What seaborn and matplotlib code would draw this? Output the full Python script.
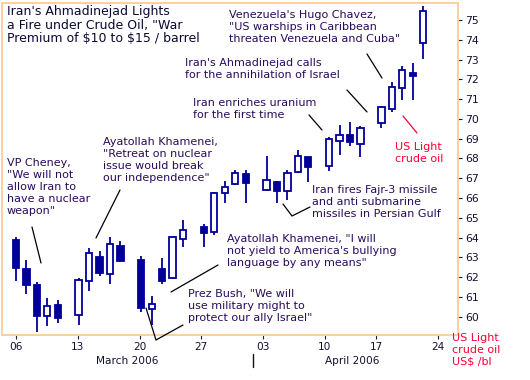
import numpy as np
import pandas as pd
import matplotlib
matplotlib.use("Agg")
import matplotlib.pyplot as plt
import seaborn as sns
from matplotlib.lines import Line2D

# ---------------- data ----------------
dates = ["2006-03-06", "2006-03-07", "2006-03-08", "2006-03-09", "2006-03-10",
         "2006-03-13", "2006-03-14", "2006-03-15", "2006-03-16", "2006-03-17",
         "2006-03-20", "2006-03-21", "2006-03-22", "2006-03-23", "2006-03-24",
         "2006-03-27", "2006-03-28", "2006-03-29", "2006-03-30", "2006-03-31",
         "2006-04-03", "2006-04-04", "2006-04-05", "2006-04-06", "2006-04-07",
         "2006-04-10", "2006-04-11", "2006-04-12", "2006-04-13",
         "2006-04-17", "2006-04-18", "2006-04-19", "2006-04-20", "2006-04-21"]
opens = [63.88, 62.41, 61.60, 60.02, 60.58,
         60.07, 61.79, 63.00, 62.14, 63.57,
         62.87, 60.40, 62.40, 61.94, 63.94,
         64.53, 64.30, 66.24, 66.69, 67.21,
         66.41, 66.81, 66.34, 67.32, 68.06,
         67.63, 68.87, 69.19, 68.75,
         69.81, 70.48, 71.55, 72.34, 73.82]
highs = [64.04, 62.87, 61.74, 60.95, 60.84,
         61.94, 63.46, 63.31, 64.04, 63.83,
         63.07, 61.05, 62.95, 64.08, 64.89,
         64.69, 66.32, 66.88, 67.42, 67.42,
         68.12, 66.86, 67.42, 68.43, 68.09,
         69.10, 69.69, 69.84, 69.64,
         70.67, 71.88, 72.67, 72.81, 75.71]
lows = [61.82, 61.13, 59.24, 59.55, 59.70,
        59.60, 61.31, 62.07, 61.65, 62.77,
        60.22, 59.60, 61.65, 61.90, 63.51,
        63.54, 64.15, 65.73, 66.65, 65.73,
        66.36, 65.73, 65.90, 67.25, 66.79,
        67.38, 68.19, 68.65, 68.06,
        69.52, 70.35, 70.96, 70.96, 73.01]
closes = [62.48, 61.62, 60.05, 60.53, 59.95,
          61.84, 63.20, 62.22, 63.66, 62.83,
          60.46, 60.63, 61.82, 64.01, 64.38,
          64.25, 66.25, 66.57, 67.28, 66.77,
          66.91, 66.37, 67.26, 68.11, 67.55,
          68.97, 69.19, 68.82, 69.52,
          70.62, 71.60, 72.46, 72.18, 75.47]
xtick_labels = ["06", "13", "20", "27", "03", "10", "17", "24"]
ytick_values = list(range(60, 76))
month_labels = ["March 2006", "April 2006"]

title = "Iran's Ahmadinejad Lights\na Fire under Crude Oil, \"War\nPremium of $10 to $15 / barrel"
notes = [
    "VP Cheney,\n\"We will not\nallow Iran to\nhave a nuclear\nweapon\"",
    "Ayatollah Khamenei,\n\"Retreat on nuclear\nissue would break\nour independence\"",
    "Ayatollah Khamenei, \"I will\nnot yield to America's bullying\nlanguage by any means\"",
    "Prez Bush, \"We will\nuse military might to\nprotect our ally Israel\"",
    "Iran fires Fajr-3 missile\nand anti submarine\nmissiles in Persian Gulf",
    "Iran enriches uranium\nfor the first time",
    "Iran's Ahmadinejad calls\nfor the annihilation of Israel",
    "Venezuela's Hugo Chavez,\n\"US warships in Caribbean\nthreaten Venezuela and Cuba\"",
]
series_label = "US Light\ncrude oil"
axis_label = "US Light\ncrude oil\nUS$ /bl"

# ---------------- frame ----------------
df = pd.DataFrame({"date": pd.to_datetime(dates), "open": opens, "high": highs,
                   "low": lows, "close": closes})
# trading-day slots, one empty slot per weekend
slots = []
s = 0
prev = None
for d in df["date"]:
    if prev is not None:
        s += 1
        if d.weekday() < prev.weekday():
            s += 1
    slots.append(s)
    prev = d
df["slot"] = slots
df["up"] = df["close"] >= df["open"]

W, H = 530, 380
sns.set_theme(style="white")
plt.rcParams["font.family"] = ["DejaVu Sans"]
plt.rcParams["text.parse_math"] = False
fig = plt.figure(figsize=(W / 100, H / 100), dpi=100)
fig.patch.set_facecolor("white")

def P(x, y):
    return (x / W, 1 - y / H)

ax = fig.add_axes([2 / W, 45 / H, 456 / W, 332 / H])
ax.set_facecolor("white")

navy = "#000099"
txtc = "#2a0a5c"
red = "#ff0033"

ax.vlines(df["slot"], df["low"], df["high"], color=navy, lw=1.3, zorder=2)
body_bottom = np.minimum(df["open"], df["close"])
body_h = np.maximum(np.abs(df["close"] - df["open"]), 0.12)
face = [("white" if u else navy) for u in df["up"]]
ax.bar(df["slot"], body_h, bottom=body_bottom, width=0.6, color=face,
       edgecolor=navy, linewidth=1.3, zorder=3)

ax.set_xlim(-1.34, 42.34)
ax.set_ylim(59.07, 75.86)

for sp in ax.spines.values():
    sp.set_color("#ffcc99")
    sp.set_linewidth(1.3)

ax.yaxis.tick_right()
ax.set_yticks(ytick_values)
ax.set_yticklabels([str(v) for v in ytick_values])
ax.tick_params(axis="y", right=True, length=3, width=0.8, color="#222222",
               labelsize=7.8, labelcolor="#111133", pad=2)

# x ticks at Mondays
mondays = [0, 6, 12, 18, 24, 30, 35, 41]
tick_pos = [m * 0.986 for m in mondays]
ax.set_xticks(tick_pos)
ax.set_xticklabels(xtick_labels)
ax.tick_params(axis="x", bottom=True, length=3, width=0.8, color="#222222",
               labelsize=7.6, labelcolor="#111133", pad=2)
ax.grid(False)

# month separator and labels
sep = 22.68
trans = ax.get_xaxis_transform()
ax.plot([sep, sep], [-0.058, -0.097], transform=trans, color="#111111", lw=1.0, clip_on=False)
xl, xr = ax.get_xlim()
ax.text((xl + sep) / 2, -0.078, month_labels[0], transform=trans, ha="center", va="center",
        fontsize=7.6, color="#111133")
ax.text((sep + xr) / 2 - 0.3, -0.078, month_labels[1], transform=trans, ha="center", va="center",
        fontsize=7.6, color="#111133")

# title
fig.text(*P(7, 25), title, ha="left", va="center", fontsize=9.0, color="#0a0a33",
         linespacing=1.0)

# annotations: (text, left x, center y)
note_pos = [(7, 186.5), (103, 160), (227, 251), (188, 306), (312, 202), (193, 108.5),
            (185, 69), (229, 27.5)]
for t, (x, y) in zip(notes, note_pos):
    fig.text(*P(x, y), t, ha="left", va="center", fontsize=8.0, color=txtc,
             linespacing=1.25)

fig.text(*P(395, 153.5), series_label, ha="left", va="center", fontsize=8.0,
         color=red, linespacing=1.25)
fig.text(*P(452, 350), axis_label, ha="left", va="center", fontsize=8.0,
         color=red, linespacing=1.2)

# leader lines (pixel coords)
leaders = [
    ([32, 41], [227, 263]),
    ([120, 96], [190, 238]),
    ([218, 171], [265, 292]),
    ([146, 156, 183], [308, 340, 325]),
    ([283, 292, 310], [204, 216, 207]),
    ([309, 322], [115, 130]),
    ([347, 367], [90, 112]),
    ([367, 382], [54, 78]),
]
for xs, ys in leaders:
    fig.add_artist(Line2D([x / W for x in xs], [1 - y / H for y in ys],
                          transform=fig.transFigure, color="black", lw=0.9))
fig.add_artist(Line2D([403 / W, 417 / W], [1 - 116 / H, 1 - 133 / H],
                      transform=fig.transFigure, color=red, lw=0.9))

fig.savefig("out.png", dpi=100, facecolor="white")
